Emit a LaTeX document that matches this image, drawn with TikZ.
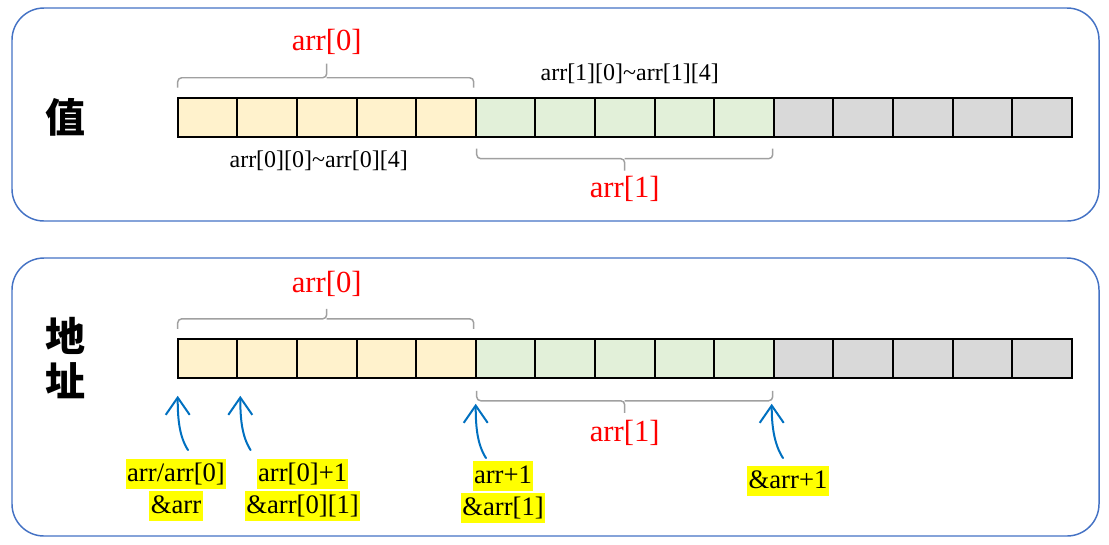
\documentclass[tikz,border=0pt]{standalone}
\usepackage{fontspec}
\setmainfont{Liberation Serif}
\newfontfamily\cjkfont{Noto Sans CJK SC}
\usepackage{xcolor}
\usetikzlibrary{positioning, calc, arrows.meta}

\definecolor{panelblue}{RGB}{68,114,196}
\definecolor{celly}{HTML}{FFF2CC}
\definecolor{cellg}{HTML}{E2F0D9}
\definecolor{cellk}{HTML}{D9D9D9}
\definecolor{bracegrey}{HTML}{A0A0A0}
\definecolor{arrowblue}{HTML}{0070C0}
\definecolor{labred}{HTML}{FF0000}
\definecolor{hlyellow}{HTML}{FFFF00}

\begin{document}
\begin{tikzpicture}[x=0.75pt, y=-0.75pt,
            panel/.style={draw=panelblue, line width=1.1pt, rounded corners=24pt},
            cell/.style={draw=black, line width=1.5pt, minimum width=44.7pt, minimum height=29.2pt, inner sep=0pt},
            brace/.style={draw=bracegrey, line width=1.1pt, rounded corners=3pt},
            redlab/.style={text=labred, font=\fontsize{23}{27}\selectfont, inner sep=0pt},
            rangelab/.style={font=\fontsize{18}{22}\selectfont, inner sep=0pt},
            hanzi/.style={font=\cjkfont\bfseries\fontsize{30}{36}\selectfont, inner sep=0pt},
            hl/.style={fill=hlyellow, font=\fontsize{20}{24}\selectfont, inner xsep=1pt, inner ysep=0pt, text height=16.5pt, text depth=5.5pt},
            ptr/.style={draw=arrowblue, line width=1.5pt, line cap=round, -{Straight Barb[length=13pt, width=18pt]}}]

            \useasboundingbox (0,0) rectangle (1109,544);

            % Panels
            \draw[panel] (12,8) rectangle (1099,221);
            \draw[panel] (12,258) rectangle (1099,536);

            % Side titles
            \node[hanzi] (val) at (65,117) {值};
            \node[hanzi] (addr1) at (65,336) {地};
            \node[hanzi] (addr2) at (65,381) {址};

            % Cells
            \foreach \i in {0,...,14} {
                \ifnum\i<5 \def\fc{celly}\else\ifnum\i<10 \def\fc{cellg}\else\def\fc{cellk}\fi\fi
                \node[cell, fill=\fc] (t\i) at ({177.7+59.6*(\i+0.5)}, 117.2) {};
                \node[cell, fill=\fc] (b\i) at ({177.7+59.6*(\i+0.5)}, 358.3) {};
            }

            % Top: braces and labels
            \draw[brace] ($(t0.north west)+(1,-9)$) |- ($(t2.north)+(0,-19)$) -- ($(t2.north)+(0,-33)$);
            \draw[brace] ($(t4.north east)+(-3,-9)$) |- ($(t2.north)+(0,-19)$);
            \node[redlab] (v0) at ($(t2.north)+(0,-55)$) {arr[0]};
            \node[rangelab] (v0r) at ($(t2.south)+(-8,23)$) {arr[0][0]\textasciitilde arr[0][4]};

            \draw[brace] ($(t5.south west)+(2,11)$) |- ($(t7.south)+(0,21)$) -- ($(t7.south)+(0,33)$);
            \draw[brace] ($(t9.south east)+(-2,11)$) |- ($(t7.south)+(0,21)$);
            \node[redlab] (v1) at ($(t7.south)+(0,51)$) {arr[1]};
            \node[rangelab] (v1r) at ($(t7.north)+(5,-23)$) {arr[1][0]\textasciitilde arr[1][4]};

            % Bottom: braces and labels
            \draw[brace] ($(b0.north west)+(1,-9)$) |- ($(b2.north)+(0,-19)$) -- ($(b2.north)+(0,-29)$);
            \draw[brace] ($(b4.north east)+(-3,-9)$) |- ($(b2.north)+(0,-19)$);
            \node[redlab] (a0) at ($(b2.north)+(0,-54)$) {arr[0]};

            \draw[brace] ($(b5.south west)+(2,12)$) |- ($(b7.south)+(0,22)$) -- ($(b7.south)+(0,34)$);
            \draw[brace] ($(b9.south east)+(-2,12)$) |- ($(b7.south)+(0,22)$);
            \node[redlab] (a1) at ($(b7.south)+(0,54)$) {arr[1]};

            % Pointer labels
            \node[hl] (p1a) at (176,474) {arr/arr[0]};
            \node[hl, below=1.5pt of p1a] (p1b) {\&arr};
            \node[hl] (p2a) at (302.6,474) {arr[0]+1};
            \node[hl, below=1.5pt of p2a] (p2b) {\&arr[0][1]};
            \node[hl] (p3a) at (503,476) {arr+1};
            \node[hl, below=1.5pt of p3a] (p3b) {\&arr[1]};
            \node[hl] (p4) at (788,481) {\&arr+1};

            % Pointer ends
            \coordinate (h1) at ($(b0.south west)+(1,17)$);
            \coordinate (h2) at ($(b1.south west)+(4,17)$);
            \coordinate (h3) at ($(b5.south west)+(1,25)$);
            \coordinate (h4) at ($(b10.south west)+(-1,25)$);
            \coordinate (s1) at ($(p1a.north)+(12,-9)$);
            \coordinate (s2) at ($(p2a.north)+(-52,-9)$);
            \coordinate (s3) at ($(p3a.north)+(-17,-3)$);
            \coordinate (s4) at ($(p4.north)+(-5,-8)$);

            % Arrows
            \draw[ptr] (s1) .. controls +(-9,-14) and +(0,22) .. (h1);
            \draw[ptr] (s2) .. controls +(-9,-14) and +(0,22) .. (h2);
            \draw[ptr] (s3) .. controls +(-9,-14) and +(0,22) .. (h3);
            \draw[ptr] (s4) .. controls +(-9,-14) and +(0,22) .. (h4);
        \end{tikzpicture}
\end{document}
